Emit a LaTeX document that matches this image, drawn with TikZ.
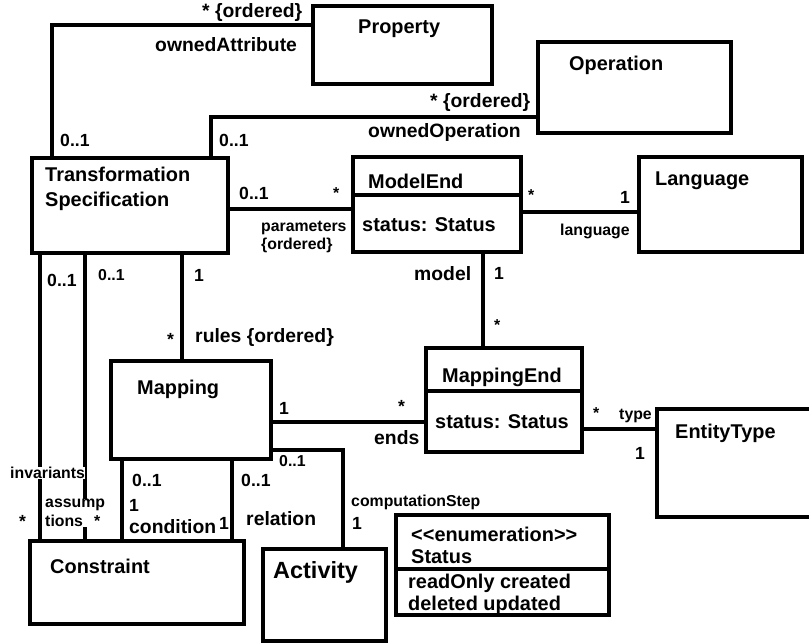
\documentclass[tikz,border=0pt]{standalone}
\usepackage{fontspec}
\setmainfont{Liberation Sans}
\usetikzlibrary{fit}

\tikzset{
  umlbox/.style={draw, line width=3.4pt, inner sep=0pt},
  assoc/.style={line width=3.4pt},
  title/.style={anchor=west, inner sep=0pt, font=\fontsize{17}{21}\selectfont\bfseries},
  lbl/.style={anchor=west, inner sep=0pt, font=\fontsize{16.5}{19}\selectfont\bfseries},
  mult/.style={anchor=west, inner sep=0pt, font=\fontsize{15}{18}\selectfont\bfseries},
  small/.style={anchor=west, inner sep=0pt, font=\fontsize{13.5}{16}\selectfont\bfseries},
}

\begin{document}
\begin{tikzpicture}[x=0.03cm,y=-0.03cm]
\useasboundingbox (0,0) rectangle (809,643);
\clip (0,0) rectangle (809,643);
% classes
\node[umlbox, fit={(313,6) (492,84)}] (prop) {};
\node[umlbox, fit={(538,42) (731,133)}] (oper) {};
\node[umlbox, fit={(32,158) (228,253)}] (ts) {};
\node[umlbox, fit={(353,157) (521,195)}] (me) {};
\node[umlbox, fit={(353,195) (521,252)}] (meattr) {};
\node[umlbox, fit={(639,157) (802,252)}] (lang) {};
\node[umlbox, fit={(111,361) (271,459)}] (map) {};
\node[umlbox, fit={(426,348) (582,391)}] (mend) {};
\node[umlbox, fit={(426,391) (582,452)}] (mendattr) {};
\node[umlbox, fit={(657,409) (816,517)}] (et) {};
\node[umlbox, fit={(30,541) (244,624)}] (con) {};
\node[umlbox, fit={(263,549) (386,641)}] (act) {};
\node[umlbox, fit={(396,515) (609,569)}] (stat) {};
\node[umlbox, fit={(396,569) (609,615)}] (statlit) {};

\node[title] (propname) at (358,29) {Property};
\node[title] (opername) at (569,65) {Operation};
\node[title, align=left] (tsname) at (45,189) {Transformation\\Specification};
\node[title] (mename) at (368,181) {ModelEnd};
\node[title] (meattrname) at (362,225) {status: Status};
\node[title] (langname) at (655,181) {Language};
\node[title] (mapname) at (137,389) {Mapping};
\node[title] (mendname) at (442,377) {MappingEnd};
\node[title] (mendattrname) at (435,422) {status: Status};
\node[title] (etname) at (675,433) {EntityType};
\node[title] (conname) at (50,566) {Constraint};
\node[title, font=\fontsize{20}{24}\selectfont\bfseries] (actname) at (273,572) {Activity};
\node[title] (stereo) at (411,534) {<\kern0pt<enumeration>\kern0pt>};
\node[title] (statname) at (411,557) {Status};
\node[title] (lit1) at (408,583) {readOnly created};
\node[title] (lit2) at (408,605) {deleted updated};

% associations
\coordinate (oa) at (52,25);
\coordinate (oo) at (211,117);
\coordinate (pa) at (0,209);
\coordinate (la) at (0,212);
\coordinate (mo) at (483,0);
\coordinate (ru) at (182,0);
\coordinate (en) at (0,422);
\coordinate (ty) at (0,429);
\coordinate (iv) at (40,0);
\coordinate (as) at (85,0);
\coordinate (cd) at (122,0);
\coordinate (rl) at (232,0);
\coordinate (cs) at (343,450);
\draw[assoc] (ts.north -| oa) -- (oa) -- (prop.west |- oa);
\draw[assoc] (ts.north -| oo) -- (oo) -- (oper.west |- oo);
\draw[assoc] (ts.east |- pa) -- (meattr.west |- pa);
\draw[assoc] (meattr.east |- la) -- (lang.west |- la);
\draw[assoc] (meattr.south -| mo) -- (mend.north -| mo);
\draw[assoc] (ts.south -| ru) -- (map.north -| ru);
\draw[assoc] (map.east |- en) -- (mendattr.west |- en);
\draw[assoc] (mendattr.east |- ty) -- (et.west |- ty);
\draw[assoc] (ts.south -| iv) -- (con.north -| iv);
\draw[assoc] (ts.south -| as) -- (con.north -| as);
\draw[assoc] (map.south -| cd) -- (con.north -| cd);
\draw[assoc] (map.south -| rl) -- (con.north -| rl);
\draw[assoc] (map.east |- cs) -- (cs) -- (act.north -| cs);

% ends
\node[lbl] (oa1) at (202,13) {* \{ordered\}};
\node[lbl] (oa2) at (155,45) {ownedAttribute};
\node[mult] (oa3) at (60,140) {0..1};
\node[lbl] (oo1) at (430,103) {* \{ordered\}};
\node[lbl] (oo2) at (368,133) {ownedOperation};
\node[mult] (oo3) at (219,140) {0..1};
\node[mult] (pa1) at (239,193) {0..1};
\node[small] (pa2) at (333,193) {*};
\node[small, align=left] (pa3) at (261,237) {parameters\\\{ordered\}};
\node[small] (la1) at (528,195) {*};
\node[mult] (la2) at (620,197) {1};
\node[small] (la3) at (560,231) {language};
\node[lbl] (mo1) at (414,274) {model};
\node[mult] (mo2) at (494,273) {1};
\node[small] (mo3) at (494,325) {*};
\node[mult] (iv1) at (47,280) {0..1};
\node[small] (as1) at (98,275) {0..1};
\node[mult] (ru1) at (194,275) {1};
\node[mult] (ru2) at (167,339) {*};
\node[lbl] (ru3) at (195,337) {rules \{ordered\}};
\node[mult] (en1) at (279,408) {1};
\node[mult] (en2) at (398,406) {*};
\node[lbl] (en3) at (374,438) {ends};
\node[small] (cs1) at (279,461) {0..1};
\node[small, fill=white] (iv2) at (10,473) {invariants};
\node[mult] (cd1) at (132,480) {0..1};
\node[mult] (rl1) at (241,480) {0..1};
\node[small, fill=white, align=left] (as2) at (45,513) {assump\\tions};
\node[mult] (iv3) at (19,521) {*};
\node[small] (as3) at (94,521) {*};
\node[mult] (cd2) at (129,505) {1};
\node[lbl] (cd3) at (129,527) {condition};
\node[mult] (rl2) at (219,523) {1};
\node[lbl] (rl3) at (246,519) {relation};
\node[small] (cs2) at (351,502) {computationStep};
\node[mult] (cs3) at (352,523) {1};
\node[small] (ty1) at (593,413) {*};
\node[small] (ty2) at (619,416) {type};
\node[mult] (ty3) at (635,453) {1};
\end{tikzpicture}
\end{document}
